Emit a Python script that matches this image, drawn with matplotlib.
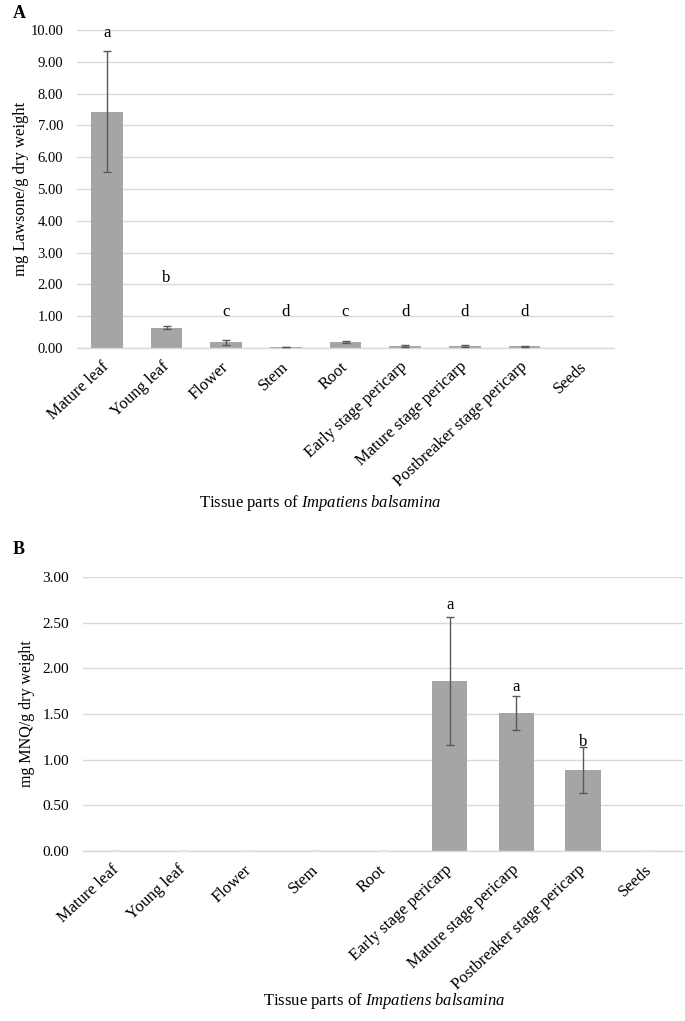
import matplotlib
matplotlib.use("Agg")
import matplotlib.pyplot as plt
import numpy as np

plt.rcParams['font.family'] = ['Liberation Serif', 'DejaVu Serif']
plt.rcParams['mathtext.fontset'] = 'custom'
plt.rcParams['mathtext.rm'] = 'Liberation Serif'
plt.rcParams['mathtext.it'] = 'Liberation Serif:italic'

categories = ["Mature leaf", "Young leaf", "Flower", "Stem", "Root",
              "Early stage pericarp", "Mature stage pericarp",
              "Postbreaker stage pericarp", "Seeds"]

lawsone = [7.43, 0.64, 0.18, 0.03, 0.19, 0.05, 0.06, 0.05, 0.0]
lawsone_err = [1.90, 0.05, 0.08, 0.01, 0.04, 0.03, 0.02, 0.02, 0.0]
lawsone_letters = ["a", "b", "c", "d", "c", "d", "d", "d", ""]
lawsone_letter_y = [9.9, 2.2, 1.13, 1.13, 1.13, 1.13, 1.13, 1.13, 0]
lawsone_ticks = [0, 1, 2, 3, 4, 5, 6, 7, 8, 9, 10]

mnq = [0.0, 0.0, 0.0, 0.0, 0.0, 1.86, 1.51, 0.89, 0.0]
mnq_err = [0.0, 0.0, 0.0, 0.0, 0.0, 0.70, 0.19, 0.25, 0.0]
mnq_letters = ["", "", "", "", "", "a", "a", "b", ""]
mnq_letter_y = [0, 0, 0, 0, 0, 2.69, 1.80, 1.19, 0]
mnq_ticks = [0, 0.5, 1.0, 1.5, 2.0, 2.5, 3.0]

bar_color = "#A5A5A5"
err_color = "#595959"
grid_color = "#D9D9D9"

fig = plt.figure(figsize=(6.85, 10.21), dpi=100)

def panel(rect, vals, errs, letters, letter_y, ticks, ylabel, tag, tag_y,
          xlabel_x, xlabel_y, faint_zero, ytick_size, ylabel_size):
    ax = fig.add_axes(rect)
    x = np.arange(len(categories))
    vals = np.array(vals)
    errs = np.array(errs)
    ax.bar(x, vals, width=0.53, color=bar_color, zorder=2)
    nz = errs > 0
    ax.errorbar(x[nz], vals[nz], yerr=errs[nz], fmt='none', ecolor=err_color,
                elinewidth=1.0, capsize=3, capthick=1.0, zorder=3)
    if faint_zero:
        z = ~nz
        ax.errorbar(x[z], vals[z] + 0.004, yerr=errs[z], fmt='none',
                    ecolor="#E3E3E3", elinewidth=1.0, capsize=3,
                    capthick=1.5, zorder=3)
    for xi, l, ly in zip(x, letters, letter_y):
        if l:
            ax.text(xi, ly, l, ha='center', va='center', fontsize=12)
    ax.set_xlim(-0.5, len(categories) - 0.5)
    ax.set_ylim(ticks[0], ticks[-1])
    ax.set_yticks(ticks)
    ax.set_yticklabels([f"{t:.2f}" for t in ticks], fontsize=ytick_size)
    ax.set_xticks(x)
    ax.set_xticklabels(categories, rotation=43, ha='right', va='center',
                       rotation_mode='anchor', fontsize=12)
    ax.tick_params(axis='y', length=0, pad=10)
    ax.tick_params(axis='x', length=0, pad=12)
    ax.yaxis.grid(True, color=grid_color, linewidth=1.0, zorder=0)
    ax.set_axisbelow(True)
    for s in ['top', 'right', 'left']:
        ax.spines[s].set_visible(False)
    ax.spines['bottom'].set_color(grid_color)
    ax.spines['bottom'].set_linewidth(1.0)
    ax.set_ylabel(ylabel, fontsize=ylabel_size)
    fig.text(0.018, tag_y, tag, fontsize=13, fontweight='bold', va='center')
    fig.text(xlabel_x, xlabel_y, r"Tissue parts of $\it{Impatiens\ balsamina}$",
             ha='center', va='center', fontsize=12)
    return ax

axA = panel([77/685, 1 - 348/1021, 537/685, 318/1021], lawsone, lawsone_err,
            lawsone_letters, lawsone_letter_y, lawsone_ticks,
            "mg Lawsone/g dry weight", "A", 1 - 13/1021,
            320/685, 1 - 503/1021, False, 10.5, 12)
axA.yaxis.set_label_coords(-0.090, 0.5)

axB = panel([83/685, 1 - 851/1021, 600/685, 274/1021], mnq, mnq_err,
            mnq_letters, mnq_letter_y, mnq_ticks,
            "mg MNQ/g dry weight", "B", 1 - 549/1021,
            384/685, 1 - 1001/1021, True, 11, 11.5)
axB.yaxis.set_label_coords(-0.080, 0.5)

fig.savefig("out.png", dpi=100)
